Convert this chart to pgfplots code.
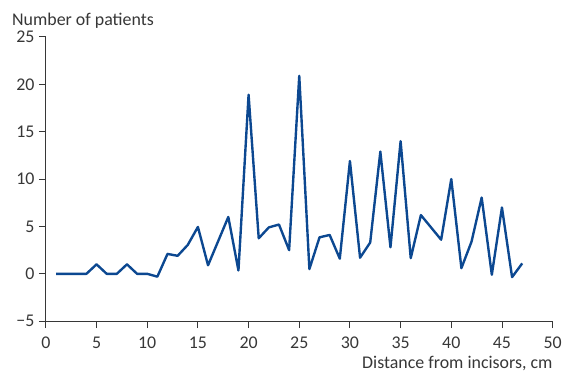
\documentclass[border=0pt]{standalone}
\usepackage{fontspec}
\setmainfont{Carlito}
\usepackage{pgfplots}
\pgfplotsset{compat=1.18}
\definecolor{lineblue}{RGB}{12,72,145}
\definecolor{axgray}{RGB}{55,55,55}
\begin{document}
\begin{tikzpicture}
\path (-46bp,-53bp) rectangle (519bp,322bp);
\begin{axis}[
  at={(0,0)}, anchor=south west,
  scale only axis,
  width=508bp, height=285bp,
  xmin=0, xmax=50, ymin=-5, ymax=25,
  axis x line*=bottom, axis y line*=left,
  axis line style={axgray, line width=0.9pt, -},
  tick style={axgray, line width=0.9pt},
  tick align=outside,
  major tick length=7bp,
  xtick={0,5,...,50},
  ytick={-5,0,5,10,15,20,25},
  yticklabels={−5,0,5,10,15,20,25},
  /pgf/number format/assume math mode=true,
  tick label style={font=\fontsize{18}{21}\selectfont, text=axgray},
  xticklabel style={yshift=-5bp},
  yticklabel style={xshift=-1bp},
  label style={font=\fontsize{18}{21}\selectfont, text=axgray},
  xlabel={Distance from incisors, cm},
  xlabel style={at={(rel axis cs:1,0)}, anchor=north east, yshift=-35bp, inner sep=0pt},
  ylabel={Number of patients},
  ylabel style={rotate=-90, at={(rel axis cs:0,1)}, anchor=south west, xshift=-34bp, yshift=8bp, inner sep=0pt},
  clip=false,
]
\addplot[lineblue, line width=2.4pt, line join=round] coordinates {
(1,0) (2,0) (3,0) (4,0) (5,1) (6,0) (7,0) (8,1) (9,0) (10,0)
(11,-0.3) (12,2.1) (13,1.9) (14,3.05) (15,4.95) (16,0.9) (17,3.45) (18,6.0)
(19,0.35) (20,18.9) (21,3.75) (22,4.9) (23,5.2) (24,2.5) (25,20.9)
(26,0.5) (27,3.85) (28,4.1) (29,1.6) (30,11.9) (31,1.7) (32,3.3)
(33,12.9) (34,2.8) (35,14.0) (36,1.65) (37,6.2) (38,4.9) (39,3.6)
(40,10.0) (41,0.6) (42,3.4) (43,8.05) (44,-0.1) (45,7.0) (46,-0.35) (47,1.1)
};
\end{axis}
\end{tikzpicture}
\end{document}
